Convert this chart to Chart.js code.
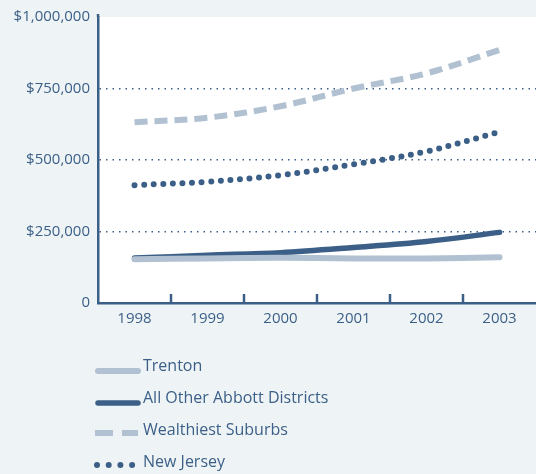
<!DOCTYPE html>
<html>
<head>
<meta charset="utf-8">
<script src="https://cdn.jsdelivr.net/npm/chart.js@4"></script>
<style>
  html, body { margin: 0; padding: 0; background: #eef4f5; }
  #wrap { width: 536px; height: 474px; position: relative; }
</style>
</head>
<body>
<div id="wrap"><canvas id="c" width="536" height="474"></canvas></div>
<script>
const years = ['1998', '1999', '2000', '2001', '2002', '2003'];
const trenton = [153000, 156000, 158000, 156000, 156000, 160000];
const abbott = [157000, 167000, 176000, 194000, 215000, 247000];
const wealthiest = [632000, 648000, 688000, 750000, 803000, 885000];
const newJersey = [412000, 424000, 447000, 485000, 530000, 598000];
const yTicks = [0, 250000, 500000, 750000, 1000000];
const seriesNames = ['Trenton', 'All Other Abbott Districts', 'Wealthiest Suburbs', 'New Jersey'];

const DARK = '#3b5f87';
const LIGHT = '#b1c1d1';
const FONT = '"Open Sans", "Noto Sans", sans-serif';

const bgPlugin = {
  id: 'bgPlugin',
  beforeDraw(chart) {
    const {ctx, chartArea: a} = chart;
    ctx.save();
    ctx.fillStyle = '#ffffff';
    ctx.fillRect(a.left, a.top, a.right - a.left, a.bottom - a.top);
    ctx.restore();
  }
};

const tickPlugin = {
  id: 'tickPlugin',
  afterDraw(chart) {
    const {ctx, chartArea: a} = chart;
    const xs = chart.scales.x;
    ctx.save();
    ctx.strokeStyle = DARK;
    ctx.lineWidth = 2.5;
    for (let i = 1; i < years.length; i++) {
      const px = Math.round((xs.getPixelForValue(i - 1) + xs.getPixelForValue(i)) / 2);
      ctx.beginPath();
      ctx.moveTo(px, a.bottom);
      ctx.lineTo(px, a.bottom - 9);
      ctx.stroke();
    }
    // small extension of the y axis above the plot
    ctx.beginPath();
    ctx.moveTo(a.left, a.top);
    ctx.lineTo(a.left, a.top - 3);
    ctx.stroke();
    ctx.restore();
  }
};

const legendPlugin = {
  id: 'legendPlugin',
  afterDraw(chart) {
    const {ctx} = chart;
    const x1 = 138, textX = 143, y0 = 366, step = 32;
    ctx.save();
    chart.data.datasets.forEach((ds, i) => {
      const y = y0 + i * step;
      ctx.strokeStyle = ds.borderColor;
      ctx.lineWidth = ds.borderWidth;
      ctx.lineCap = ds.borderCapStyle || 'butt';
      ctx.setLineDash(ds.legendDash || []);
      ctx.beginPath();
      ctx.moveTo(ds.legendStart || 95, y + (ds.legendDrop || 4));
      ctx.lineTo(x1, y + (ds.legendDrop || 4));
      ctx.stroke();
      ctx.setLineDash([]);
      ctx.fillStyle = DARK;
      ctx.font = '16px ' + FONT;
      ctx.textBaseline = 'middle';
      ctx.textAlign = 'left';
      ctx.fillText(ds.label, textX, y);
    });
    ctx.restore();
  }
};

new Chart(document.getElementById('c'), {
  type: 'line',
  data: {
    labels: years,
    datasets: [
      {
        label: seriesNames[0], data: trenton,
        borderColor: LIGHT, borderWidth: 6, borderCapStyle: 'round',
        legendStart: 98, legendDrop: 5
      },
      {
        label: seriesNames[1], data: abbott,
        borderColor: DARK, borderWidth: 5.5, borderCapStyle: 'round',
        legendStart: 98, legendDrop: 5
      },
      {
        label: seriesNames[2], data: wealthiest,
        borderColor: LIGHT, borderWidth: 6, borderDash: [13, 7], borderCapStyle: 'butt',
        legendDash: [18, 9], legendDrop: 3
      },
      {
        label: seriesNames[3], data: newJersey,
        borderColor: DARK, borderWidth: 6, borderDash: [0, 9.6], borderCapStyle: 'round',
        legendDash: [0, 11.7], legendStart: 97, legendDrop: 3
      }
    ]
  },
  options: {
    responsive: false,
    animation: false,
    devicePixelRatio: 1,
    layout: { padding: { top: 17, left: 0, right: 0, bottom: 141 } },
    elements: {
      point: { radius: 0, hoverRadius: 0 },
      line: { tension: 0.35, borderJoinStyle: 'round' }
    },
    plugins: {
      legend: { display: false },
      tooltip: { enabled: false }
    },
    scales: {
      x: {
        offset: true,
        grid: { display: false, offset: true },
        border: { display: true, color: DARK, width: 2.5 },
        ticks: { color: DARK, font: { family: FONT, size: 15 }, padding: -1, maxRotation: 0 },
        afterFit(s) { s.height = 30; }
      },
      y: {
        min: 0, max: 1000000,
        afterBuildTicks(s) { s.ticks = yTicks.map(v => ({ value: v })); },
        grid: {
          drawTicks: false,
          color: c => (c.tick && c.tick.value > 0 && c.tick.value < 1000000) ? DARK : 'rgba(0,0,0,0)',
          lineWidth: 1.5
        },
        border: { display: true, color: DARK, width: 2.5, dash: [1.5, 5] },
        ticks: {
          color: DARK, font: { family: FONT, size: 15 }, padding: 8,
          callback: v => v === 0 ? '0' : '$' + v.toLocaleString('en-US')
        },
        afterFit(s) { s.width = 98; }
      }
    }
  },
  plugins: [bgPlugin, tickPlugin, legendPlugin]
});
</script>
</body>
</html>
